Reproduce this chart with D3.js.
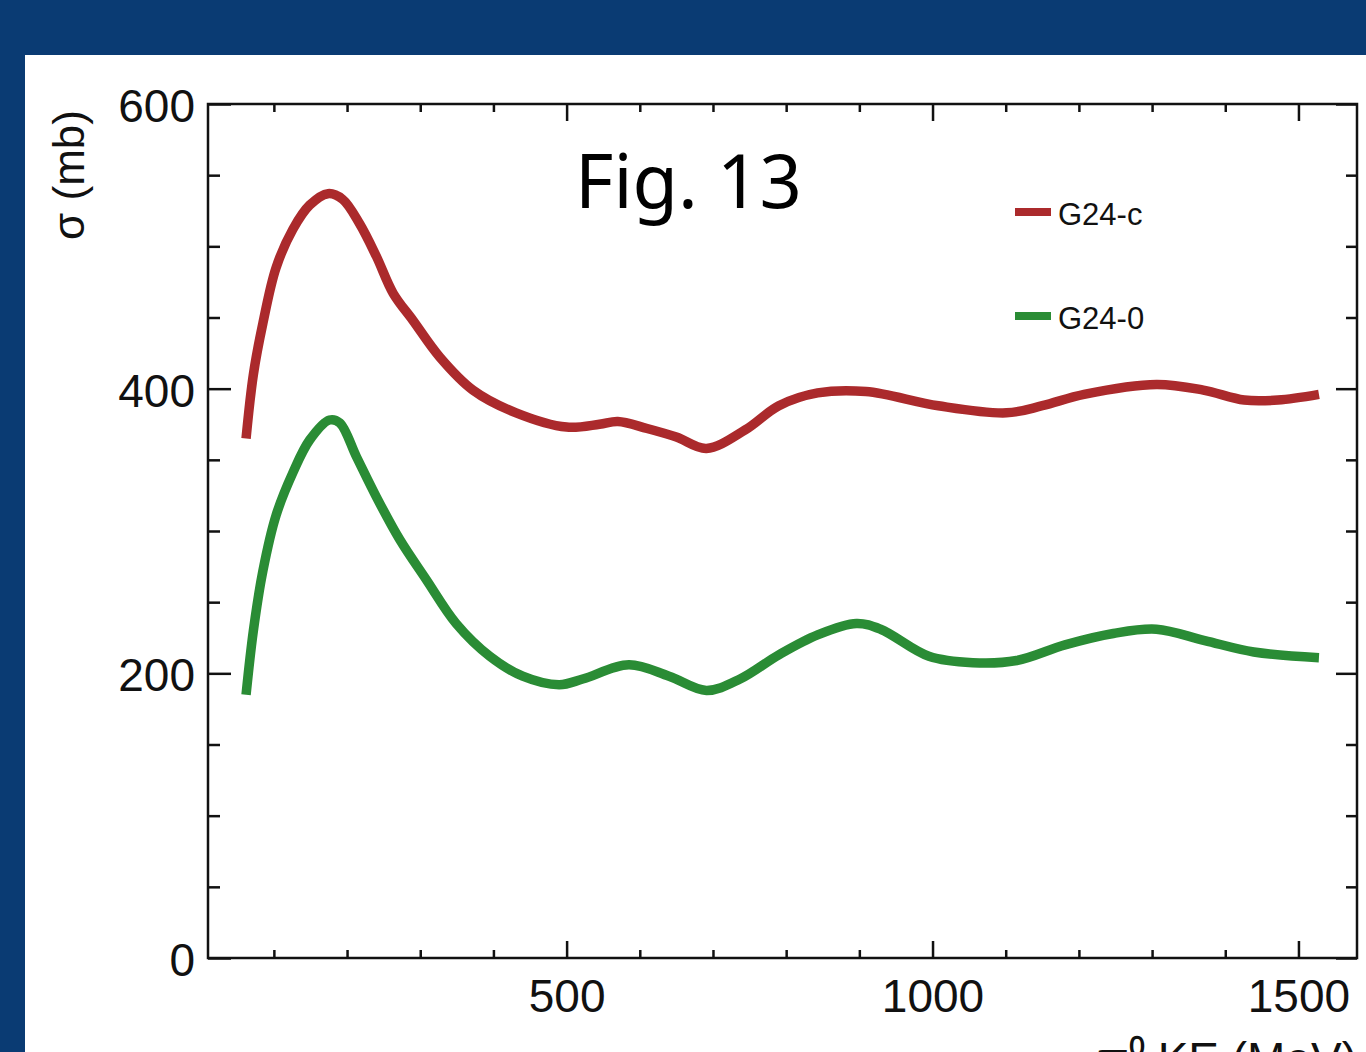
<!DOCTYPE html>
<html>
<head>
<meta charset="utf-8">
<script src="https://cdn.jsdelivr.net/npm/d3@7"></script>
<style>
  html, body { margin: 0; padding: 0; background: #0a3b73; }
  svg { display: block; }
  .tick text { font-family: "Liberation Sans", Arial, sans-serif; }
</style>
</head>
<body>
<svg width="1366" height="1052"></svg>
<script>
// kinetic energy (MeV) and cross section (mb)
var energyC = [62, 72, 85, 103, 126, 149, 174, 194, 217, 240, 263, 290, 327, 372, 431, 500,
  545, 570, 610, 650, 691, 744, 790, 843, 909, 1008, 1101, 1150, 1207, 1306, 1370, 1426, 1472, 1528];
var sigmaC = [365, 410, 446, 485, 512, 529, 537, 533, 516, 493, 467, 448, 422, 399, 383, 373,
  375, 377, 372, 366, 358, 371, 388, 397, 398, 388, 383, 388, 396, 403, 399, 392, 392, 396];

var energy0 = [62, 72, 85, 103, 126, 149, 176, 190, 213, 240, 272, 308, 349, 395, 440, 490,
  522, 585, 640, 691, 737, 790, 843, 896, 929, 995, 1055, 1115, 1181, 1247, 1306, 1372, 1439, 1528];
var sigma0 = [185, 230, 272, 311, 341, 364, 378, 376, 352, 324, 294, 266, 235, 212, 198, 192,
  196, 206, 198, 188, 196, 213, 227, 235, 231, 212, 207.5, 209, 220, 228, 231, 223, 215, 211];

var seriesNames = ['G24-c', 'G24-0'];
var seriesColors = ['#ab2a2c', '#2a8c35'];

var xMajor = [500, 1000, 1500];
var xMinor = [100, 200, 300, 400, 600, 700, 800, 900, 1100, 1200, 1300, 1400];
var yMajor = [0, 200, 400, 600];
var yMinor = [50, 100, 150, 250, 300, 350, 450, 500, 550];

var svg = d3.select('svg');

// white panel on the blue slide
svg.append('rect')
  .attr('x', 25).attr('y', 55)
  .attr('width', 1341).attr('height', 997)
  .attr('fill', '#fff');

var plotLeft = 208, plotRight = 1357, plotTop = 104, plotBottom = 958;

var x = d3.scaleLinear().domain([10, 1580]).range([plotLeft, plotRight]);
var y = d3.scaleLinear().domain([0, 600]).range([plotBottom, plotTop]);

var g = svg.append('g');

function styleAxis(sel) {
  sel.select('.domain').remove();
  sel.selectAll('line').attr('stroke', '#111').attr('stroke-width', 2.5);
  sel.selectAll('text').attr('fill', '#111').style('font-size', '46px');
}

// bottom
g.append('g').attr('transform', 'translate(0,' + plotBottom + ')')
  .call(d3.axisBottom(x).tickValues(xMajor).tickSize(-17).tickPadding(21).tickFormat(d3.format('d')))
  .call(styleAxis);
g.append('g').attr('transform', 'translate(0,' + plotBottom + ')')
  .call(d3.axisBottom(x).tickValues(xMinor).tickSize(-8).tickFormat(''))
  .call(styleAxis);
// top
g.append('g').attr('transform', 'translate(0,' + plotTop + ')')
  .call(d3.axisTop(x).tickValues(xMajor).tickSize(-17).tickFormat(''))
  .call(styleAxis);
g.append('g').attr('transform', 'translate(0,' + plotTop + ')')
  .call(d3.axisTop(x).tickValues(xMinor).tickSize(-8).tickFormat(''))
  .call(styleAxis);
// left
g.append('g').attr('transform', 'translate(' + plotLeft + ',0)')
  .call(d3.axisLeft(y).tickValues(yMajor).tickSize(-23).tickPadding(13).tickFormat(d3.format('d')))
  .call(styleAxis)
  .selectAll('text').attr('dy', '0.38em');
g.append('g').attr('transform', 'translate(' + plotLeft + ',0)')
  .call(d3.axisLeft(y).tickValues(yMinor).tickSize(-12).tickFormat(''))
  .call(styleAxis);
// right
g.append('g').attr('transform', 'translate(' + plotRight + ',0)')
  .call(d3.axisRight(y).tickValues(yMajor).tickSize(-21).tickFormat(''))
  .call(styleAxis);
g.append('g').attr('transform', 'translate(' + plotRight + ',0)')
  .call(d3.axisRight(y).tickValues(yMinor).tickSize(-11).tickFormat(''))
  .call(styleAxis);

// frame
g.append('rect')
  .attr('x', plotLeft).attr('y', plotTop)
  .attr('width', plotRight - plotLeft).attr('height', plotBottom - plotTop)
  .attr('fill', 'none')
  .attr('stroke', '#111')
  .attr('stroke-width', 2.5);

// curves
var line = d3.line()
  .x(function(d) { return x(d[0]); })
  .y(function(d) { return y(d[1]); })
  .curve(d3.curveCatmullRom.alpha(0.5));

var series = [
  d3.zip(energyC, sigmaC),
  d3.zip(energy0, sigma0)
];

g.selectAll('.curve')
  .data(series)
  .enter()
  .append('path')
  .attr('class', 'curve')
  .attr('d', line)
  .attr('fill', 'none')
  .attr('stroke', function(d, i) { return seriesColors[i]; })
  .attr('stroke-width', 9.5);

// legend
var legend = g.selectAll('.legend')
  .data(seriesNames)
  .enter()
  .append('g')
  .attr('class', 'legend')
  .attr('transform', function(d, i) {
    return 'translate(1015,' + (212 + i * 104) + ')';
  });
legend.append('line')
  .attr('x1', 0).attr('x2', 36)
  .attr('y1', 0).attr('y2', 0)
  .attr('stroke', function(d, i) { return seriesColors[i]; })
  .attr('stroke-width', 8);
legend.append('text')
  .attr('x', 43)
  .attr('y', 13)
  .style('font-family', '"Liberation Sans", Arial, sans-serif')
  .style('font-size', '31px')
  .attr('fill', '#111')
  .text(function(d) { return d; });

// axis titles
svg.append('text')
  .attr('transform', 'translate(84,175) rotate(-90)')
  .attr('text-anchor', 'middle')
  .style('font-family', '"Liberation Sans", Arial, sans-serif')
  .style('font-size', '44px')
  .attr('fill', '#111')
  .text('σ (mb)');

svg.append('text')
  .attr('x', 1357)
  .attr('y', 1075)
  .attr('text-anchor', 'end')
  .style('font-family', '"Liberation Sans", Arial, sans-serif')
  .style('font-size', '46px')
  .attr('fill', '#111')
  .text('π⁰ KE (MeV)');

svg.append('text')
  .attr('x', 575)
  .attr('y', 208)
  .style('font-family', '"Noto Sans", sans-serif')
  .style('font-size', '74px')
  .attr('fill', '#000')
  .text('Fig. 13');
</script>
</body>
</html>
